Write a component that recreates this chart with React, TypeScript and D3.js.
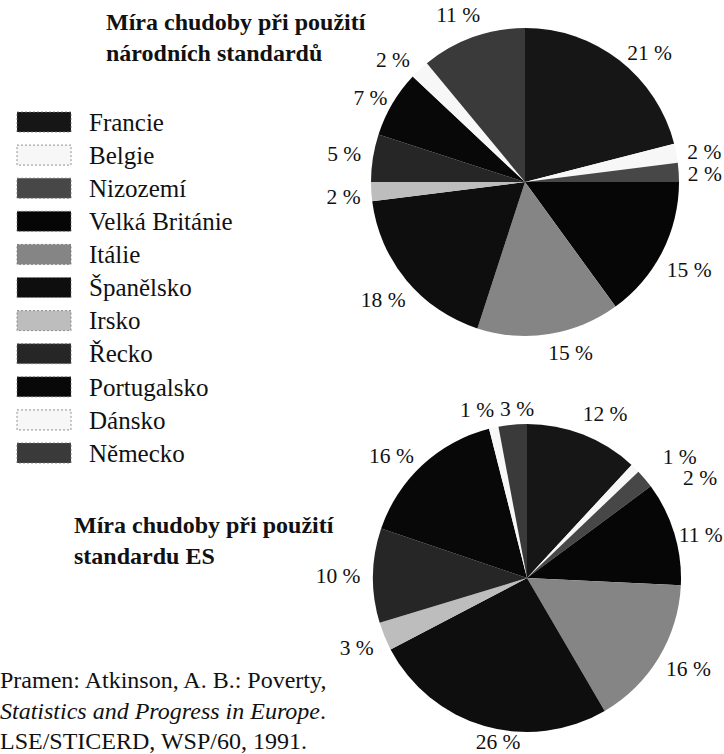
import React, { useEffect, useRef } from 'react';
import * as d3 from 'd3';

const countries = ['Francie', 'Belgie', 'Nizozemí', 'Velká Británie', 'Itálie', 'Španělsko', 'Irsko', 'Řecko', 'Portugalsko', 'Dánsko', 'Německo'];
const nationalShares = [21, 2, 2, 15, 15, 18, 2, 5, 7, 2, 11];
const esShares = [12, 1, 2, 11, 16, 26, 3, 10, 16, 1, 3];
const fills = ['#161616', '#f7f7f7', '#474747', '#060606', '#858585', '#0e0e0e', '#bdbdbd', '#262626', '#080808', '#f7f7f7', '#3a3a3a'];

const titleNational = ['Míra chudoby při použití', 'národních standardů'];
const titleES = ['Míra chudoby při použití', 'standardu ES'];

// label nudges [degrees, px] so crowded labels sit where the original put them
const nudgeNational: [number, number][] = [[6, 0], [1, 2], [1, 0], [1, 6], [-6, -4], [0, 4], [-1, 2], [0, 3], [-2, -4], [-4, 0], [-2, 0]];
const nudgeES: [number, number][] = [[4, 0], [7, 13], [10, 18], [3, -3], [-2, 3], [-6, -16], [0, 2], [0, 7], [-5, 1], [-4, -6], [2, -12]];

const serif = '"Liberation Serif", "DejaVu Serif", serif';

export default function App() {
    const ref = useRef<SVGSVGElement | null>(null);
    useEffect(() => {
        const svg = d3.select(ref.current);
        svg.selectAll('*').remove();
        const width = 724, height = 754;
        svg.attr('viewBox', `0 0 ${width} ${height}`).attr('width', width).attr('height', height);
        svg.append('rect').attr('width', width).attr('height', height).attr('fill', '#fff');

        const color = d3.scaleOrdinal<string, string>().domain(countries).range(fills);
        const pie = d3.pie<number>().sort(null).value(d => d);

        const drawPie = (values: number[], cx: number, cy: number, r: number, labelR: number, nudge: [number, number][]) => {
            const g = svg.append('g').attr('transform', `translate(${cx},${cy})`);
            const arcs = pie(values);
            const arc = d3.arc<d3.PieArcDatum<number>>().innerRadius(0).outerRadius(r);
            g.selectAll('path').data(arcs).join('path')
                .attr('d', arc)
                .attr('fill', (d, i) => color(countries[i]));
            const pos = (d: d3.PieArcDatum<number>, i: number) => {
                const a = (d.startAngle + d.endAngle) / 2 + nudge[i][0] * Math.PI / 180;
                const rr = labelR + nudge[i][1];
                return [Math.sin(a) * rr, -Math.cos(a) * rr];
            };
            g.selectAll('text').data(arcs).join('text')
                .attr('x', (d, i) => pos(d, i)[0])
                .attr('y', (d, i) => pos(d, i)[1])
                .attr('dy', '0.35em')
                .attr('text-anchor', 'middle')
                .attr('font-family', serif)
                .attr('font-size', 21.5)
                .attr('fill', '#111')
                .text(d => `${d.data} %`);
        };

        drawPie(nationalShares, 525, 182, 154, 180, nudgeNational);
        drawPie(esShares, 527, 578, 154, 182, nudgeES);

        // legend
        const y = d3.scalePoint<string>().domain(countries).range([122, 453]);
        const rows = svg.append('g').selectAll('g').data(countries).join('g')
            .attr('transform', d => `translate(0,${y(d)})`);
        rows.append('rect')
            .attr('x', 17).attr('y', -10).attr('width', 54).attr('height', 20)
            .attr('fill', d => color(d))
            .attr('stroke', '#777').attr('stroke-width', 0.8).attr('stroke-dasharray', '2,2');
        rows.append('text')
            .attr('x', 89).attr('dy', '0.35em')
            .attr('font-family', serif).attr('font-size', 25).attr('fill', '#111')
            .text(d => d);

        const title = (lines: string[], x: number, y0: number) => {
            svg.append('g').selectAll('text').data(lines).join('text')
                .attr('x', x).attr('y', (d, i) => y0 + i * 31)
                .attr('font-family', serif).attr('font-size', 24).attr('font-weight', 'bold').attr('fill', '#111')
                .text(d => d);
        };
        title(titleNational, 106, 30);
        title(titleES, 74, 533);

        const src = svg.append('g').attr('font-family', serif).attr('font-size', 24).attr('fill', '#111');
        src.append('text').attr('x', 0).attr('y', 688).text('Pramen: Atkinson, A. B.: Poverty,');
        const l2 = src.append('text').attr('x', 0).attr('y', 719);
        l2.append('tspan').attr('font-style', 'italic').text('Statistics and Progress in Europe');
        l2.append('tspan').text('.');
        src.append('text').attr('x', 0).attr('y', 749).text('LSE/STICERD, WSP/60, 1991.');
    }, []);
    return <svg ref={ref} style={{ position: 'absolute', left: 0, top: 0, display: 'block' }} />;
}
